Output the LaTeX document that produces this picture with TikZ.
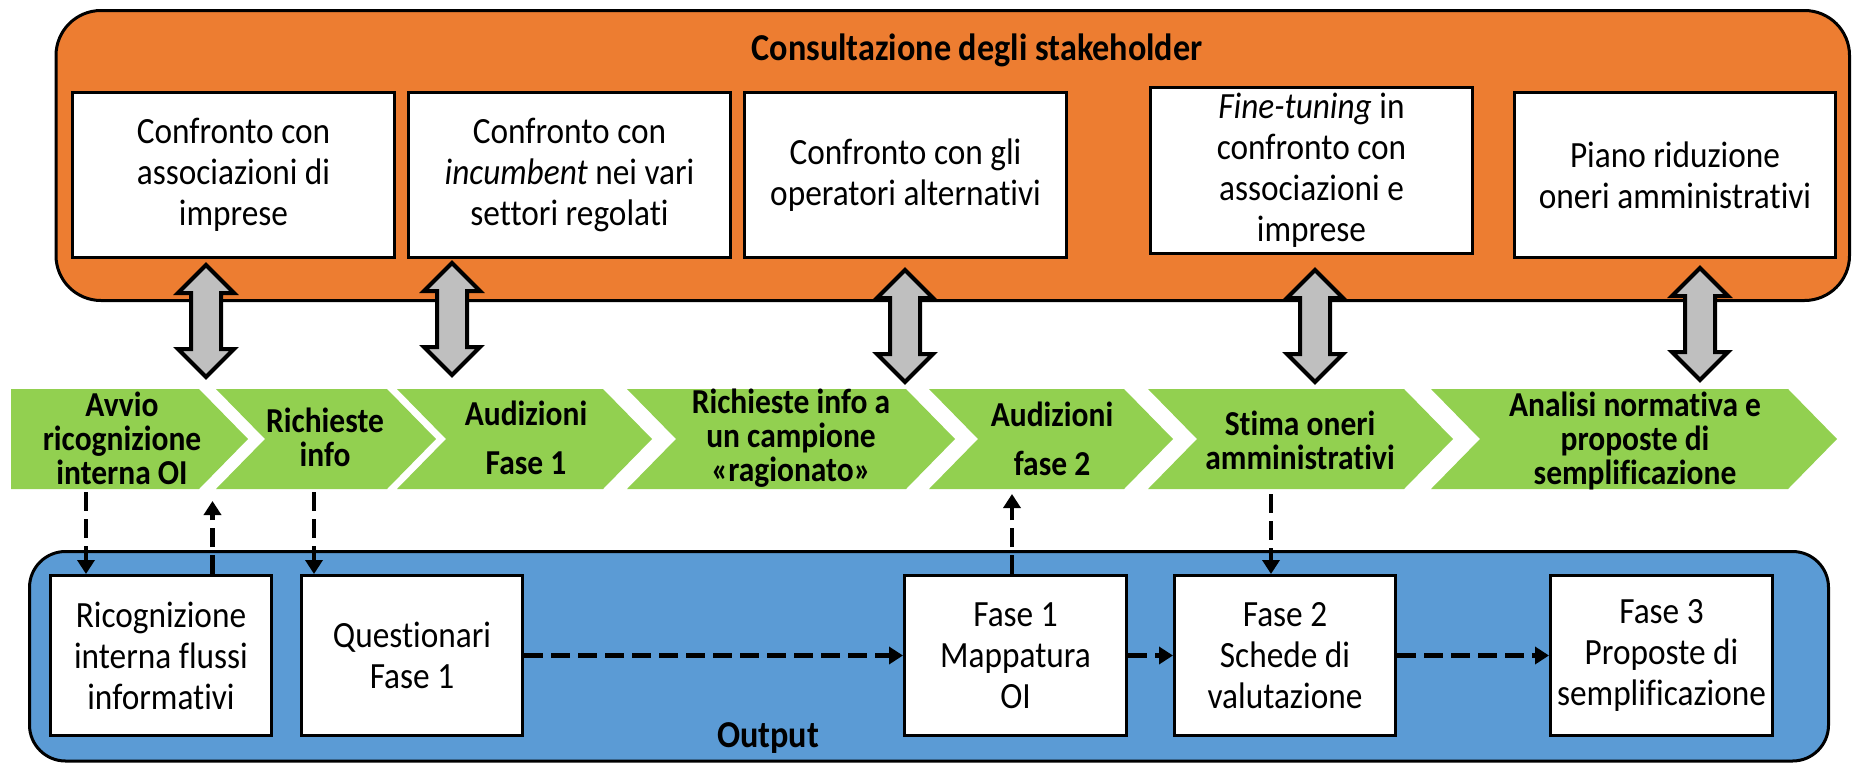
\documentclass[tikz,border=0pt]{standalone}
\usepackage{fontspec}
\setmainfont{Carlito}[FakeStretch=0.9, Ligatures=NoCommon]
\usetikzlibrary{arrows.meta}
\definecolor{consorange}{HTML}{ED7D31}
\definecolor{outblue}{HTML}{5B9BD5}
\definecolor{phasegreen}{HTML}{92D050}
\definecolor{arrowgray}{HTML}{BFBFBF}

\tikzset{
  panel/.style={draw=black, line width=3pt},
  paneltitle/.style={font=\bfseries\fontsize{38}{44}\selectfont, inner sep=0pt},
  whitebox/.style={draw=black, line width=3pt, fill=white, align=center,
    font=\fontsize{37}{41}\selectfont, inner sep=0pt},
  phasetext/.style={align=center, inner sep=0pt, font=\bfseries\fontsize{35}{34}\selectfont},
  phasewide/.style={align=center, inner sep=0pt, font=\bfseries\fontsize{35}{49}\selectfont},
  flow/.style={line width=4.5pt, dash pattern=on 19pt off 8pt,
    -{Triangle[length=14pt,width=17pt]}},
  bigarrow/.style={fill=arrowgray, draw=black, line width=4pt, line join=miter},
  pics/biarrow/.style={code={
    \draw[bigarrow] (0,0) -- (28,28) -- (15,28) -- (15,84) -- (28,84) -- (0,112)
      -- (-28,84) -- (-15,84) -- (-15,28) -- (-28,28) -- cycle;}},
}

% one green step of the process: left x, right x (before the point)
\newcommand{\phasestep}[2]{\fill[phasegreen] (#1,389) -- (#2,389) -- ({#2+49},439)
  -- (#2,489) -- (#1,489) -- ({#1+49},439) -- cycle;}

\begin{document}
\begin{tikzpicture}[x=1pt,y=-1pt]
\useasboundingbox (0,0) rectangle (1854,763);

% stakeholder panel
\draw[panel, fill=consorange, rounded corners=45pt] (56,10.5) rectangle (1849.5,300.5);
\node[paneltitle] (cons) at (977,50) {Consultazione degli stakeholder};

% output panel
\draw[panel, fill=outblue, rounded corners=36pt] (29.5,551.5) rectangle (1828.5,761);
\node[paneltitle] (outl) at (768,738) {Output};

% consultation boxes
\node[whitebox, minimum width=322pt, minimum height=165pt] (ta) at (233.5,175)
  {Confronto con\\associazioni di\\imprese};
\node[whitebox, minimum width=322pt, minimum height=165pt] (tb) at (569.5,175)
  {Confronto con\\\textit{incumbent} nei vari\\settori regolati};
\node[whitebox, minimum width=322pt, minimum height=165pt] (tc) at (905.5,175)
  {Confronto con gli\\operatori alternativi};
\node[whitebox, minimum width=322pt, minimum height=166pt] (td) at (1311.5,170.5)
  {\textit{Fine-tuning} in\\confronto con\\associazioni e\\imprese};
\node[whitebox, minimum width=321pt, minimum height=165pt] (te) at (1675,175)
  {Piano riduzione\\oneri amministrativi};

% process steps
\fill[phasegreen] (11,389) -- (199,389) -- (248,439) -- (199,489) -- (11,489) -- cycle;
\phasestep{216}{387}
\phasestep{397}{603}
\phasestep{627}{906}
\phasestep{929}{1124}
\phasestep{1148}{1404}
\phasestep{1431}{1788}

\node[phasetext] (p1) at (122,438) {Avvio\\ricognizione\\interna OI};
\node[phasetext] (p2) at (325,437) {Richieste\\info};
\node[phasewide] (p3) at (526,438) {Audizioni\\Fase 1};
\node[phasetext] (p4) at (791,438) {Richieste info a\\un campione\\«ragionato»};
\node[phasewide] (p5) at (1052,439) {Audizioni\\fase 2};
\node[phasetext] (p6) at (1300,440) {Stima oneri\\amministrativi};
\node[phasetext] (p7) at (1635,441) {Analisi normativa e\\proposte di\\semplificazione};

% two-way exchanges between stakeholders and process
\coordinate (x1) at (206,265);
\coordinate (x2) at (452,263);
\coordinate (x3) at (905,270);
\coordinate (x4) at (1315,270);
\coordinate (x5) at (1700,268);
\foreach \c in {x1,x2,x3,x4,x5} \pic at (\c) {biarrow};

% output boxes
\node[whitebox, minimum width=221pt, minimum height=160pt] (rb) at (161,655.5)
  {Ricognizione\\interna flussi\\informativi};
\node[whitebox, minimum width=221pt, minimum height=160pt] (qb) at (412,655.5)
  {Questionari\\Fase 1};
\node[whitebox, minimum width=222pt, minimum height=160pt] (f1) at (1015.5,655.5)
  {Fase 1\\Mappatura\\OI};
\node[whitebox, minimum width=221pt, minimum height=160pt] (f2) at (1285,655.5)
  {Fase 2\\Schede di\\valutazione};
\node[whitebox, minimum width=222pt, minimum height=160pt] (f3) at (1661.5,655.5)
  {Fase 3\\Proposte di\\semplificazione};

% information flows
\coordinate (p1out) at (86,492);
\coordinate (p1in) at (212.5,501);
\coordinate (p2out) at (314,492);
\coordinate (p5in) at (1012,494);
\coordinate (p6out) at (1271,494);
\draw[flow] (p1out) -- (p1out |- rb.north);
\draw[flow] (rb.north -| p1in) -- (p1in);
\draw[flow] (p2out) -- (p2out |- qb.north);
\draw[flow] (qb.east) -- (f1.west);
\draw[flow] (f1.north -| p5in) -- (p5in);
\draw[flow] (p6out) -- (p6out |- f2.north);
\draw[flow] (f1.east) -- (f2.west);
\draw[flow] (f2.east) -- (f3.west);
\end{tikzpicture}
\end{document}
